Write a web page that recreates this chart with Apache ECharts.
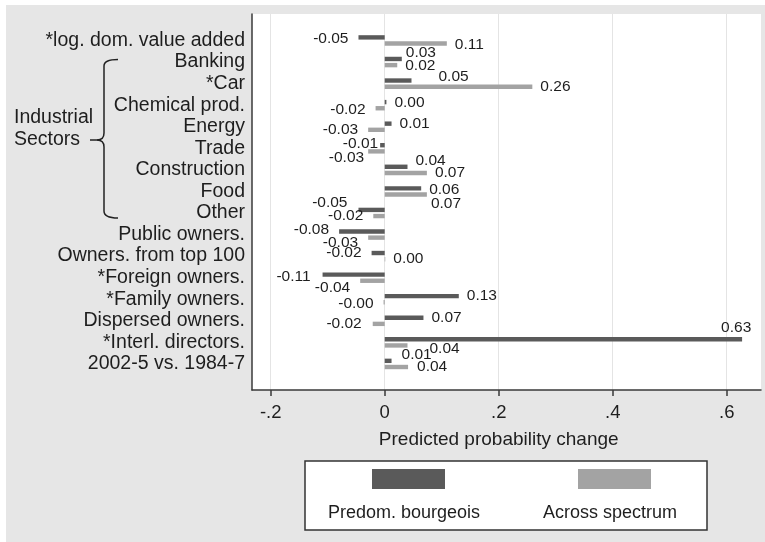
<!DOCTYPE html>
<html>
<head>
<meta charset="utf-8">
<script src="https://cdn.jsdelivr.net/npm/echarts@6/dist/echarts.min.js"></script>
<style>
html,body{margin:0;padding:0;background:#fff;}
#chart{width:765px;height:542px;}
</style>
</head>
<body>
<div id="chart"></div>
<script>
// ---- data ----
const categories = [
  '*log. dom. value added', 'Banking', '*Car', 'Chemical prod.', 'Energy', 'Trade',
  'Construction', 'Food', 'Other', 'Public owners.', 'Owners. from top 100',
  '*Foreign owners.', '*Family owners.', 'Dispersed owners.', '*Interl. directors.',
  '2002-5 vs. 1984-7'
];
const seriesNames = ['Predom. bourgeois', 'Across spectrum'];
const bourgeois = [-0.046, 0.030, 0.047, 0.003, 0.012, -0.008, 0.040, 0.064, -0.046, -0.080, -0.023, -0.109, 0.130, 0.068, 0.627, 0.012];
const spectrum  = [0.109, 0.022, 0.259, -0.016, -0.029, -0.029, 0.074, 0.074, -0.020, -0.029, 0.001, -0.043, -0.002, -0.021, 0.040, 0.041];
const xTicks = [-0.2, 0, 0.2, 0.4, 0.6];

// ---- label nudges (style only) ----
const nudgeDark = [[0,1],[-4,-6],[19,-4],[0,1],[0,0],[8,-1],[0,-6],[0,1],[-1,-7],[0,-2],[0,0],[-2,2],[0,0],[0,0],[-29,-12],[2,-6]];
const nudgeLight = [[0,1],[0,1],[0,0],[0,1],[0,0],[6,6],[0,0],[-4,9],[0,0],[0,5],[0,0],[0,7],[0,1],[-1,0],[14,3],[1,0]];

const DARK = '#5a5a5a', LIGHT = '#a3a3a3';
const FONT = 'Liberation Sans, Arial, sans-serif';
const TXT = '#1e1e1e';

function items(vals, nudges) {
  return vals.map((v, i) => ({
    value: v,
    label: {
      position: v < 0 ? 'left' : 'right',
      distance: v < 0 ? 10 : 8,
      offset: nudges[i]
    }
  }));
}
function tickFmt(v) {
  const r = Math.round(v * 10) / 10;
  if (r === 0) return '0';
  return (r < 0 ? '-' : '') + String(Math.abs(r)).replace(/^0/, '');
}

const xMin = xTicks[0], xMax = xTicks[xTicks.length - 1];
const chart = echarts.init(document.getElementById('chart'), null, {renderer: 'canvas'});

const bracketStroke = {stroke: '#222', lineWidth: 1.5, fill: 'none'};
function seg(type, shape) {
  return {type: type, z: 10, silent: true, shape: shape, style: bracketStroke};
}

const option = {
  animation: false,
  textStyle: {fontFamily: FONT},
  grid: [
    {left: 252, top: 14, width: 509, height: 376, show: true, backgroundColor: '#ffffff', borderWidth: 0, z: -5},
    {left: 270.7, top: 14, width: 456, height: 376},
    {left: 270.7, top: 29.7, width: 456, height: 345}
  ],
  xAxis: [
    {gridIndex: 0, type: 'value', min: 0, max: 1,
     axisLine: {show: true, onZero: false, lineStyle: {color: '#3a3a3a', width: 1.5}},
     axisTick: {show: false}, axisLabel: {show: false}, splitLine: {show: false}},
    {gridIndex: 1, type: 'value', min: xMin, max: xMax, interval: 0.2,
     axisLine: {show: false, onZero: false},
     axisTick: {show: true, length: 6, lineStyle: {color: '#3a3a3a', width: 1.5}},
     axisLabel: {show: true, margin: 13, fontSize: 18.5, color: TXT, fontFamily: FONT, formatter: tickFmt},
     splitLine: {show: true, lineStyle: {color: '#e4e4e4', width: 1}},
     name: 'Predicted probability change', nameLocation: 'middle', nameGap: 40,
     nameTextStyle: {fontSize: 19, color: TXT, fontFamily: FONT}},
    {gridIndex: 2, type: 'value', min: xMin, max: xMax, show: false}
  ],
  yAxis: [
    {gridIndex: 0, type: 'value', min: 0, max: 1,
     axisLine: {show: true, onZero: false, lineStyle: {color: '#3a3a3a', width: 1.5}},
     axisTick: {show: false}, axisLabel: {show: false}, splitLine: {show: false}},
    {gridIndex: 1, type: 'value', show: false},
    {gridIndex: 2, type: 'category', inverse: true, data: categories,
     axisLine: {show: false}, axisTick: {show: false},
     axisLabel: {show: true, margin: 25.7, fontSize: 19.5, color: TXT, fontFamily: FONT, padding: [3, 0, 0, 0], interval: 0}}
  ],
  series: [
    {name: seriesNames[0], type: 'bar', xAxisIndex: 2, yAxisIndex: 2, data: items(bourgeois, nudgeDark),
     barWidth: 4.4, barGap: '40%', clip: false, itemStyle: {color: DARK},
     label: {show: true, fontSize: 15.5, color: TXT, fontFamily: FONT, formatter: p => p.value.toFixed(2)}},
    {name: seriesNames[1], type: 'bar', xAxisIndex: 2, yAxisIndex: 2, data: items(spectrum, nudgeLight),
     barWidth: 4.4, barGap: '40%', clip: false, itemStyle: {color: LIGHT},
     label: {show: true, fontSize: 15.5, color: TXT, fontFamily: FONT, formatter: p => p.value.toFixed(2)}}
  ],
  graphic: {elements: [
    {type: 'rect', z: -100, silent: true, shape: {x: 6, y: 5, width: 759, height: 537}, style: {fill: '#e6e6e6'}},
    // Industrial sectors bracket
    seg('bezierCurve', {x1: 118, y1: 59.5, cpx1: 104, cpy1: 59.5, x2: 104, y2: 66}),
    seg('line', {x1: 104, y1: 66, x2: 104, y2: 133}),
    seg('bezierCurve', {x1: 104, y1: 133, cpx1: 104, cpy1: 140, x2: 97, y2: 140}),
    seg('line', {x1: 97, y1: 140, x2: 90, y2: 140}),
    seg('bezierCurve', {x1: 97, y1: 140, cpx1: 104, cpy1: 140, x2: 104, y2: 147}),
    seg('line', {x1: 104, y1: 147, x2: 104, y2: 211}),
    seg('bezierCurve', {x1: 104, y1: 211, cpx1: 104, cpy1: 218, x2: 118, y2: 218}),
    {type: 'text', z: 10, silent: true, x: 14, y: 118, style: {text: 'Industrial', fontSize: 19.5, fontFamily: FONT, fill: TXT, verticalAlign: 'middle'}},
    {type: 'text', z: 10, silent: true, x: 14, y: 140, style: {text: 'Sectors', fontSize: 19.5, fontFamily: FONT, fill: TXT, verticalAlign: 'middle'}},
    // legend
    {type: 'rect', z: 10, silent: true, shape: {x: 305, y: 461, width: 402, height: 69}, style: {fill: '#fff', stroke: '#333', lineWidth: 1.5}},
    {type: 'rect', z: 11, silent: true, shape: {x: 372, y: 469, width: 73, height: 20}, style: {fill: DARK}},
    {type: 'rect', z: 11, silent: true, shape: {x: 578, y: 469, width: 73, height: 20}, style: {fill: LIGHT}},
    {type: 'text', z: 11, silent: true, x: 404, y: 513, style: {text: seriesNames[0], fontSize: 18, fontFamily: FONT, fill: TXT, align: 'center', verticalAlign: 'middle'}},
    {type: 'text', z: 11, silent: true, x: 610, y: 513, style: {text: seriesNames[1], fontSize: 18, fontFamily: FONT, fill: TXT, align: 'center', verticalAlign: 'middle'}}
  ]}
};
chart.setOption(option);
</script>
</body>
</html>
